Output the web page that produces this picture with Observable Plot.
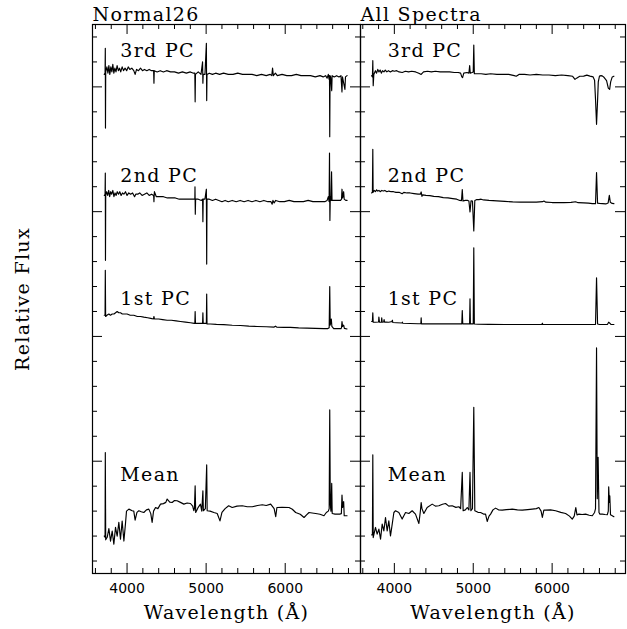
<!DOCTYPE html>
<html><head><meta charset="utf-8">
<script src="https://cdn.jsdelivr.net/npm/d3@7"></script>
<script src="https://cdn.jsdelivr.net/npm/@observablehq/plot@0.6"></script>
<style>
html,body{margin:0;padding:0;background:#fff;}
#chart{position:relative;width:627px;height:629px;}
#chart svg{position:absolute;top:0;}
</style></head><body><div id="chart"></div>
<script>
// ---------- labels & ticks ----------
const panelTitles = ["Normal26", "All Spectra"];
const componentLabels = ["3rd PC", "2nd PC", "1st PC", "Mean"];
const labelLevels = [4.29, 3.29, 2.30, 0.89];
const labelWavelength = 3915;
const xTitle = "Wavelength (Å)";
const yTitle = "Relative Flux";
const xMajorTicks = [4000, 5000, 6000];
const xMinorTicks = [3600, 3800, 4200, 4400, 4600, 4800, 5200, 5400, 5600, 5800, 6200, 6400, 6600, 6800];
const yMajorTicks = [1, 2, 3, 4];
const yMinorTicks = [0.2, 0.4, 0.6, 0.8, 1.2, 1.4, 1.6, 1.8, 2.2, 2.4, 2.6, 2.8, 3.2, 3.4, 3.6, 3.8, 4.2, 4.4];

// ---------- Normal26 spectra [wavelength, relative flux + offset] ----------
const normal3rd = [[3712,4.10],[3722,4.11],[3725,4.31],[3727,3.67],[3730,4.12],[3745,4.16],[3758,4.11],[3770,4.17],[3782,4.10],[3795,4.16],[3808,4.12],[3820,4.18],[3833,4.11],[3846,4.15],[3860,4.12],[3874,4.17],[3890,4.13],[3905,4.15],[3920,4.12],[3938,4.16],[3955,4.13],[3975,4.15],[3995,4.13],[4015,4.16],[4035,4.14],[4060,4.15],[4085,4.13],[4102,4.10],[4120,4.14],[4145,4.13],[4170,4.15],[4195,4.13],[4220,4.14],[4250,4.13],[4280,4.14],[4310,4.13],[4336,4.13],[4340,4.03],[4344,4.13],[4380,4.12],[4420,4.13],[4460,4.12],[4500,4.13],[4550,4.12],[4600,4.12],[4650,4.11],[4700,4.12],[4750,4.11],[4800,4.12],[4840,4.11],[4857,4.11],[4861,3.88],[4865,4.10],[4900,4.12],[4935,4.10],[4955,4.20],[4959,4.03],[4963,4.10],[4985,4.10],[5003,4.35],[5007,3.89],[5011,4.10],[5040,4.11],[5080,4.10],[5120,4.11],[5170,4.10],[5220,4.11],[5280,4.10],[5340,4.10],[5400,4.11],[5460,4.10],[5520,4.10],[5580,4.10],[5640,4.09],[5700,4.10],[5760,4.09],[5810,4.10],[5830,4.09],[5840,4.15],[5850,4.09],[5876,4.11],[5900,4.09],[5960,4.10],[6020,4.09],[6080,4.09],[6140,4.10],[6200,4.09],[6260,4.09],[6320,4.09],[6380,4.08],[6440,4.09],[6480,4.08],[6510,4.09],[6530,4.07],[6545,4.10],[6555,4.06],[6560,4.09],[6563,3.60],[6567,4.09],[6575,4.08],[6588,3.97],[6593,4.09],[6620,4.08],[6650,4.09],[6680,4.08],[6705,4.09],[6718,3.96],[6724,4.08],[6755,3.98],[6762,4.08],[6782,4.09]];
const normal2nd = [[3712,3.13],[3722,3.14],[3725,3.31],[3727,2.61],[3730,3.13],[3742,3.16],[3755,3.13],[3768,3.17],[3780,3.12],[3793,3.16],[3806,3.14],[3820,3.17],[3834,3.12],[3848,3.15],[3862,3.13],[3876,3.16],[3892,3.14],[3908,3.16],[3925,3.13],[3942,3.15],[3960,3.14],[3980,3.16],[4000,3.13],[4022,3.15],[4045,3.14],[4070,3.15],[4095,3.12],[4110,3.14],[4135,3.14],[4160,3.15],[4190,3.13],[4220,3.14],[4250,3.15],[4280,3.13],[4310,3.14],[4336,3.13],[4340,3.08],[4344,3.14],[4346,3.16],[4370,3.12],[4410,3.12],[4460,3.12],[4510,3.11],[4560,3.11],[4610,3.11],[4660,3.10],[4710,3.10],[4760,3.10],[4810,3.10],[4850,3.10],[4857,3.10],[4859,3.20],[4863,2.98],[4867,3.10],[4900,3.10],[4940,3.09],[4955,3.10],[4959,2.92],[4963,3.10],[4985,3.10],[5003,3.18],[5007,2.58],[5011,3.10],[5040,3.10],[5080,3.09],[5120,3.10],[5160,3.09],[5200,3.08],[5240,3.09],[5280,3.08],[5330,3.09],[5380,3.08],[5430,3.09],[5480,3.08],[5530,3.09],[5580,3.08],[5630,3.09],[5680,3.08],[5730,3.09],[5780,3.08],[5820,3.08],[5835,3.06],[5845,3.09],[5860,3.07],[5880,3.09],[5930,3.08],[5990,3.08],[6050,3.09],[6110,3.08],[6170,3.08],[6230,3.08],[6290,3.09],[6350,3.08],[6410,3.08],[6460,3.08],[6500,3.08],[6530,3.09],[6545,3.12],[6555,3.08],[6560,3.47],[6565,2.93],[6570,3.12],[6578,3.09],[6586,3.32],[6592,3.09],[6620,3.09],[6660,3.09],[6700,3.09],[6712,3.10],[6718,3.18],[6726,3.11],[6739,3.16],[6746,3.10],[6765,3.09],[6782,3.09]];
const normal1st = [[3712,2.17],[3722,2.17],[3725,2.53],[3729,2.16],[3745,2.17],[3770,2.18],[3790,2.17],[3812,2.18],[3835,2.18],[3855,2.19],[3875,2.20],[3895,2.19],[3917,2.19],[3940,2.18],[3960,2.18],[4000,2.18],[4040,2.17],[4085,2.17],[4130,2.16],[4170,2.16],[4212,2.155],[4260,2.15],[4300,2.145],[4334,2.14],[4340,2.16],[4346,2.14],[4400,2.14],[4450,2.135],[4507,2.13],[4560,2.13],[4620,2.125],[4675,2.12],[4740,2.115],[4802,2.11],[4850,2.105],[4857,2.105],[4861,2.20],[4865,2.105],[4920,2.105],[4955,2.105],[4959,2.19],[4963,2.105],[5003,2.105],[5007,2.34],[5011,2.10],[5054,2.10],[5130,2.097],[5223,2.095],[5330,2.09],[5434,2.088],[5540,2.083],[5644,2.08],[5760,2.078],[5860,2.075],[5876,2.082],[5892,2.075],[5980,2.073],[6065,2.072],[6170,2.068],[6276,2.066],[6380,2.064],[6487,2.063],[6540,2.063],[6556,2.07],[6563,2.40],[6569,2.09],[6583,2.14],[6590,2.08],[6613,2.062],[6660,2.062],[6705,2.063],[6712,2.07],[6718,2.12],[6726,2.08],[6739,2.09],[6748,2.065],[6782,2.06]];
const normalMean = [[3712,0.40],[3722,0.39],[3725,1.07],[3730,0.37],[3749,0.39],[3770,0.46],[3791,0.36],[3812,0.44],[3833,0.335],[3854,0.47],[3875,0.40],[3896,0.51],[3917,0.375],[3938,0.52],[3960,0.36],[3980,0.50],[3993,0.60],[4023,0.616],[4065,0.603],[4085,0.60],[4102,0.528],[4125,0.59],[4149,0.603],[4180,0.595],[4212,0.589],[4245,0.61],[4275,0.616],[4300,0.58],[4317,0.509],[4335,0.60],[4360,0.629],[4390,0.62],[4423,0.656],[4460,0.66],[4490,0.67],[4507,0.697],[4540,0.672],[4570,0.669],[4600,0.685],[4633,0.683],[4675,0.67],[4718,0.656],[4760,0.665],[4802,0.661],[4830,0.64],[4844,0.603],[4852,0.62],[4861,0.803],[4868,0.589],[4900,0.63],[4928,0.656],[4945,0.60],[4959,0.763],[4965,0.603],[4990,0.62],[5007,0.97],[5013,0.603],[5050,0.60],[5098,0.589],[5140,0.581],[5175,0.522],[5200,0.589],[5240,0.62],[5285,0.643],[5330,0.629],[5390,0.64],[5457,0.643],[5520,0.635],[5584,0.635],[5650,0.645],[5710,0.651],[5760,0.645],[5816,0.656],[5860,0.62],[5880,0.555],[5895,0.629],[5960,0.63],[6048,0.629],[6090,0.615],[6132,0.589],[6190,0.575],[6238,0.549],[6270,0.57],[6301,0.589],[6340,0.585],[6385,0.581],[6440,0.575],[6490,0.563],[6520,0.589],[6545,0.60],[6556,0.62],[6563,1.411],[6570,0.656],[6578,0.60],[6588,0.822],[6594,0.581],[6630,0.576],[6690,0.576],[6710,0.58],[6718,0.729],[6726,0.629],[6739,0.677],[6746,0.563],[6782,0.563]];

// ---------- All Spectra ----------
const all3rd = [[3712,4.09],[3722,4.08],[3727,4.21],[3732,4.01],[3740,4.10],[3760,4.13],[3775,4.11],[3790,4.14],[3805,4.12],[3820,4.135],[3835,4.11],[3850,4.13],[3868,4.12],[3885,4.135],[3905,4.12],[3925,4.13],[3950,4.12],[3975,4.13],[4000,4.125],[4030,4.13],[4060,4.12],[4100,4.115],[4140,4.125],[4180,4.12],[4220,4.125],[4270,4.12],[4310,4.11],[4340,4.10],[4370,4.12],[4420,4.125],[4470,4.12],[4520,4.125],[4580,4.12],[4640,4.12],[4700,4.12],[4760,4.115],[4810,4.115],[4840,4.11],[4855,4.08],[4865,4.075],[4880,4.11],[4920,4.115],[4945,4.11],[4955,4.17],[4962,4.11],[4985,4.115],[5000,4.12],[5007,4.335],[5014,4.105],[5040,4.105],[5100,4.105],[5160,4.10],[5220,4.105],[5300,4.10],[5380,4.10],[5450,4.10],[5520,4.09],[5545,4.085],[5580,4.10],[5650,4.10],[5720,4.095],[5800,4.10],[5880,4.095],[5960,4.095],[6040,4.09],[6120,4.095],[6200,4.09],[6260,4.085],[6290,4.06],[6310,4.07],[6350,4.085],[6400,4.086],[6440,4.094],[6480,4.086],[6520,4.08],[6538,4.054],[6550,3.90],[6563,3.70],[6576,3.89],[6585,4.04],[6600,4.086],[6620,4.09],[6640,4.086],[6660,4.075],[6690,4.05],[6712,3.99],[6729,3.98],[6742,4.04],[6762,4.08],[6783,4.086]];
const all2nd = [[3712,3.15],[3722,3.155],[3727,3.50],[3731,3.155],[3745,3.17],[3760,3.16],[3775,3.175],[3790,3.165],[3805,3.17],[3820,3.16],[3840,3.17],[3860,3.165],[3880,3.17],[3905,3.16],[3930,3.165],[3960,3.16],[3990,3.16],[4020,3.155],[4060,3.155],[4099,3.144],[4120,3.155],[4160,3.15],[4200,3.15],[4250,3.145],[4300,3.14],[4330,3.14],[4340,3.158],[4350,3.123],[4360,3.135],[4400,3.13],[4450,3.128],[4500,3.122],[4560,3.12],[4620,3.113],[4680,3.11],[4740,3.105],[4790,3.10],[4830,3.09],[4851,3.088],[4861,3.177],[4870,3.085],[4900,3.09],[4930,3.09],[4945,3.085],[4959,2.997],[4972,3.087],[4990,3.085],[5007,2.845],[5020,3.09],[5040,3.096],[5072,3.096],[5100,3.10],[5130,3.094],[5200,3.09],[5300,3.086],[5400,3.083],[5500,3.078],[5600,3.077],[5700,3.077],[5800,3.076],[5880,3.08],[5896,3.085],[5920,3.076],[6000,3.073],[6060,3.072],[6150,3.072],[6240,3.074],[6297,3.079],[6330,3.072],[6400,3.07],[6460,3.068],[6510,3.064],[6550,3.064],[6563,3.313],[6576,3.068],[6600,3.066],[6640,3.064],[6680,3.062],[6710,3.07],[6725,3.131],[6738,3.075],[6760,3.066],[6783,3.064]];
const all1st = [[3712,2.12],[3722,2.12],[3727,2.19],[3732,2.114],[3760,2.114],[3800,2.116],[3804,2.155],[3812,2.114],[3836,2.114],[3840,2.15],[3846,2.114],[3865,2.116],[3870,2.135],[3876,2.114],[3890,2.116],[3930,2.114],[3970,2.12],[3975,2.13],[3980,2.112],[4030,2.11],[4100,2.108],[4102,2.115],[4106,2.106],[4200,2.104],[4300,2.102],[4336,2.102],[4340,2.15],[4344,2.101],[4420,2.101],[4520,2.101],[4620,2.101],[4720,2.101],[4820,2.101],[4855,2.101],[4861,2.208],[4867,2.101],[4920,2.101],[4954,2.101],[4959,2.301],[4964,2.101],[5000,2.101],[5007,2.711],[5014,2.10],[5060,2.098],[5200,2.097],[5400,2.096],[5600,2.096],[5800,2.096],[5870,2.096],[5876,2.106],[5882,2.096],[6000,2.096],[6200,2.096],[6400,2.096],[6500,2.096],[6550,2.097],[6563,2.47],[6576,2.10],[6600,2.096],[6700,2.096],[6717,2.114],[6731,2.106],[6745,2.096],[6783,2.096]];
const allMean = [[3712,0.41],[3722,0.41],[3727,1.052],[3732,0.388],[3761,0.469],[3782,0.416],[3804,0.456],[3825,0.376],[3846,0.496],[3867,0.442],[3888,0.549],[3909,0.442],[3930,0.522],[3951,0.402],[3973,0.496],[3994,0.589],[4015,0.603],[4057,0.589],[4099,0.536],[4142,0.589],[4184,0.581],[4226,0.603],[4268,0.576],[4311,0.501],[4330,0.60],[4340,0.669],[4350,0.62],[4374,0.581],[4416,0.629],[4480,0.656],[4520,0.64],[4564,0.643],[4610,0.655],[4649,0.661],[4690,0.64],[4733,0.643],[4780,0.63],[4818,0.635],[4840,0.62],[4861,0.910],[4872,0.603],[4900,0.61],[4924,0.629],[4945,0.61],[4959,0.910],[4970,0.603],[4990,0.62],[5007,1.432],[5020,0.603],[5060,0.59],[5093,0.589],[5130,0.576],[5156,0.576],[5177,0.517],[5200,0.56],[5220,0.576],[5250,0.61],[5283,0.624],[5320,0.61],[5367,0.608],[5420,0.612],[5494,0.616],[5560,0.61],[5621,0.608],[5690,0.612],[5748,0.616],[5800,0.62],[5832,0.629],[5860,0.60],[5876,0.549],[5895,0.608],[5917,0.608],[5980,0.61],[6044,0.603],[6110,0.59],[6171,0.581],[6220,0.56],[6255,0.536],[6280,0.56],[6300,0.629],[6315,0.57],[6340,0.576],[6380,0.573],[6424,0.576],[6470,0.567],[6509,0.563],[6538,0.589],[6550,0.62],[6563,1.908],[6572,0.70],[6583,1.031],[6594,0.589],[6606,0.576],[6636,0.576],[6670,0.573],[6699,0.571],[6712,0.60],[6717,0.795],[6725,0.67],[6731,0.723],[6740,0.57],[6762,0.563],[6783,0.555]];

const panels = [
  {title: panelTitles[0], spectra: [normal3rd, normal2nd, normal1st, normalMean], left: 0, width: 360, marginLeft: 92, marginRight: 0, domain: [3563, 6952], yLabel: true},
  {title: panelTitles[1], spectra: [all3rd, all2nd, all1st, allMean], left: 360, width: 267, marginLeft: 0, marginRight: 2, domain: [3571, 6930], yLabel: false}
];

const H = 629, MT = 24, MB = 56;
const serif = "DejaVu Serif";
const ink = "#000";

for (const p of panels) {
  const iw = p.width - p.marginLeft - p.marginRight;
  const ih = H - MT - MB;
  const labels = componentLabels.map((t, i) => ({t, y: labelLevels[i]}));
  const marks = [
    Plot.frame({stroke: ink, strokeWidth: 1.2}),
    Plot.ruleX(xMajorTicks, {x: d => d, insetTop: ih - 10, stroke: ink}),
    Plot.ruleX(xMajorTicks, {x: d => d, insetBottom: ih - 10, stroke: ink}),
    Plot.ruleX(xMinorTicks, {x: d => d, insetTop: ih - 5, stroke: ink}),
    Plot.ruleX(xMinorTicks, {x: d => d, insetBottom: ih - 5, stroke: ink}),
    Plot.ruleY(yMajorTicks, {y: d => d, insetRight: iw - 10, stroke: ink}),
    Plot.ruleY(yMajorTicks, {y: d => d, insetLeft: iw - 10, stroke: ink}),
    Plot.ruleY(yMinorTicks, {y: d => d, insetRight: iw - 5, stroke: ink}),
    Plot.ruleY(yMinorTicks, {y: d => d, insetLeft: iw - 5, stroke: ink}),
    ...p.spectra.map(s => Plot.line(s, {x: d => d[0], y: d => d[1], stroke: ink, strokeWidth: 1.15})),
    Plot.text(labels, {x: labelWavelength, y: "y", text: "t", textAnchor: "start", lineAnchor: "middle", fontFamily: serif, fontSize: 19, fill: ink}),
    Plot.axisX(xMajorTicks, {anchor: "bottom", tickSize: 0, tickPadding: 10, tickFormat: d => String(d), fontFamily: "DejaVu Sans", fontSize: 14, fill: ink, label: null}),
    Plot.text([xTitle], {frameAnchor: "bottom", dy: 32, lineAnchor: "top", fontFamily: serif, fontSize: 19, fill: ink}),
    Plot.text([p.title], {frameAnchor: "top-left", dy: -17, lineAnchor: "top", textAnchor: "start", fontFamily: serif, fontSize: 19, fill: ink})
  ];
  if (p.yLabel) marks.push(Plot.text([yTitle], {frameAnchor: "left", dx: -70, rotate: -90, textAnchor: "middle", lineAnchor: "middle", fontFamily: serif, fontSize: 19, fill: ink}));
  const svg = Plot.plot({
    width: p.width, height: H,
    marginLeft: p.marginLeft, marginRight: p.marginRight, marginTop: MT, marginBottom: MB,
    x: {domain: p.domain, axis: null},
    y: {domain: [0.1, 4.5], axis: null},
    style: {background: "transparent", overflow: "visible", color: ink},
    marks
  });
  svg.style.left = p.left + "px";
  svg.querySelectorAll("g[font-family='DejaVu Serif'] text, text[font-family='DejaVu Serif']").forEach(t => { t.style.letterSpacing = "1.3px"; });
  document.getElementById("chart").appendChild(svg);
}
</script></body></html>
